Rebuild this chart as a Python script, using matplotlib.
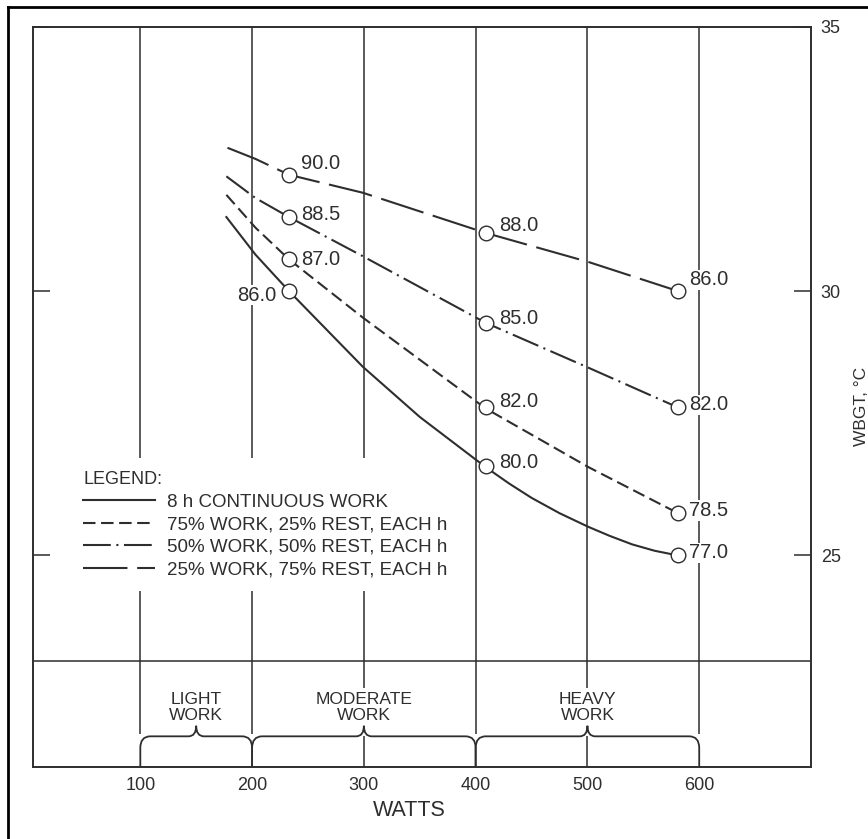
import numpy as np
import matplotlib.pyplot as plt
from matplotlib.lines import Line2D
from matplotlib.path import Path
from matplotlib.patches import PathPatch

plt.rcParams['font.family'] = ['Liberation Sans', 'DejaVu Sans']
plt.rcParams['lines.scale_dashes'] = False

# curves (watts, WBGT degC)
cont_w = [177, 203, 233, 299, 350, 409, 430, 450, 475, 501, 520, 540, 560, 581]
cont_t = [31.40, 30.69, 30.00, 28.57, 27.62, 26.67, 26.36, 26.09, 25.80,
          25.54, 25.37, 25.21, 25.09, 25.00]
w75_w = [177, 203, 233, 299, 409, 501, 581]
w75_t = [31.82, 31.20, 30.60, 29.50, 27.78, 26.67, 25.80]
w50_w = [177, 203, 233, 299, 409, 501, 581]
w50_t = [32.17, 31.76, 31.40, 30.66, 29.40, 28.55, 27.80]
w25_w = [178, 203, 233, 299, 409, 501, 581]
w25_t = [32.71, 32.50, 32.20, 31.86, 31.10, 30.55, 30.00]

# marked points and their labels (deg F)
mark_w = [233, 409, 581]
cont_mark = [30.0, 26.7, 25.0]
w75_mark = [30.6, 27.8, 25.8]
w50_mark = [31.4, 29.4, 27.8]
w25_mark = [32.2, 31.1, 30.0]
cont_lab = ['86.0', '80.0', '77.0']
w75_lab = ['87.0', '82.0', '78.5']
w50_lab = ['88.5', '85.0', '82.0']
w25_lab = ['90.0', '88.0', '86.0']

names = ['8 h CONTINUOUS WORK', '75% WORK, 25% REST, EACH h',
         '50% WORK, 50% REST, EACH h', '25% WORK, 75% REST, EACH h']

grid_x = [100, 200, 300, 400, 500, 600]
work_names = ['LIGHT\nWORK', 'MODERATE\nWORK', 'HEAVY\nWORK']
work_from = [100, 200, 400]
work_to = [200, 400, 600]

ink = '#2e2e2e'

fig = plt.figure(figsize=(8.68, 8.39), dpi=100)
ax = fig.add_axes([33/868, 72/839, 778/868, 740.3/839])
ax.set_xlim(4, 700)
ax.set_ylim(21, 35)

# grid and separator
ax.vlines(grid_x, 23, 35, color=ink, lw=1.1, zorder=1)
ax.axhline(23, color=ink, lw=1.1, zorder=1)
centers = [(a + b) / 2 for a, b in zip(work_from, work_to)]
for x in grid_x:
    if x in centers:
        ax.vlines(x, 22.5, 23, color=ink, lw=1.1)
        ax.vlines(x, 21, 21.58, color=ink, lw=1.1)
    else:
        ax.vlines(x, 21.62, 23, color=ink, lw=1.1)

# braces
yb, yh, yt = 21.0, 21.58, 21.78
for a, b, name in zip(work_from, work_to, work_names):
    m = (a + b) / 2
    verts = [(a, yb), (a, yh - 0.22), (a, yh), (a + 9, yh), (m - 7, yh),
             (m, yh), (m, yt), (m, yh), (m + 7, yh), (b - 9, yh),
             (b, yh), (b, yh - 0.22), (b, yb)]
    codes = [Path.MOVETO, Path.LINETO, Path.CURVE3, Path.CURVE3, Path.LINETO,
             Path.CURVE3, Path.CURVE3, Path.CURVE3, Path.CURVE3, Path.LINETO,
             Path.CURVE3, Path.CURVE3, Path.LINETO]
    ax.add_patch(PathPatch(Path(verts, codes), fill=False, ec=ink, lw=1.3))
    ax.text(m, 22.13, name, ha='center', va='center', fontsize=12.5,
            color=ink, linespacing=1.05, zorder=3)

styles = [dict(ls='-'), dict(dashes=(9, 4)), dict(dashes=(20, 4, 1.5, 4)),
          dict(dashes=(32, 7))]
curves = [(cont_w, cont_t), (w75_w, w75_t), (w50_w, w50_t), (w25_w, w25_t)]
marks = [cont_mark, w75_mark, w50_mark, w25_mark]
labs = [cont_lab, w75_lab, w50_lab, w25_lab]
offs = [[(-9, -3), (10, 2), (8, 2)],
        [(9, 0), (10, 4), (8, 2)],
        [(9, 2), (10, 3), (8, 2)],
        [(9, 8), (10, 5), (8, 8)]]

for (cw, ct), st, mk, lb, off, nm in zip(curves, styles, marks, labs, offs, names):
    ax.plot(cw, ct, color=ink, lw=1.5, zorder=2, label=nm, **st)
    ax.plot(mark_w, mk, 'o', ms=10.5, mfc='white', mec=ink, mew=1.0, zorder=3)
    for x, y, t, o in zip(mark_w, mk, lb, off):
        ax.annotate(t, (x, y), xytext=o, textcoords='offset points',
                    ha='left' if o[0] > 0 else 'right', va='center',
                    fontsize=14.5, color=ink, zorder=1.5,
                    bbox=dict(fc='white', ec='none', pad=0.5))

leg = ax.legend(loc='upper left', bbox_to_anchor=(0.0476, 0.4174),
                borderaxespad=0, borderpad=0.7, frameon=True,
                facecolor='white', edgecolor='none', framealpha=1,
                title='LEGEND:', alignment='left', fontsize=13.5,
                title_fontsize=13, handlelength=3.85, handletextpad=0.62,
                labelspacing=0.29)
for t in leg.get_texts():
    t.set_color(ink)
leg.get_title().set_color(ink)
leg.set_zorder(1.8)

ax.set_xticks(grid_x)
ax.tick_params(axis='x', length=0, pad=7, labelsize=13, colors=ink)
ax.set_yticks([25, 30, 35])
ax.yaxis.set_ticks_position('both')
ax.tick_params(axis='y', direction='in', length=12, width=1.1, pad=7,
               labelsize=13, labelleft=False, labelright=True, colors=ink)
for s in ax.spines.values():
    s.set_color(ink)
    s.set_linewidth(1.4)

ax.set_xlabel('WATTS', fontsize=15.5, color=ink)
ax.xaxis.set_label_coords(0.484, -0.045)
fig.text(861/868, 1 - 406/839, 'WBGT, °C', rotation=90, ha='center',
         va='center', fontsize=12.5, color=ink)

# outer frame of the figure
fig.add_artist(Line2D([8/868, 8/868], [0, 1 - 7/839], color='k', lw=2,
                      transform=fig.transFigure))
fig.add_artist(Line2D([8/868, 1], [1 - 7/839, 1 - 7/839], color='k', lw=2,
                      transform=fig.transFigure))

fig.savefig('out.png', dpi=100)
